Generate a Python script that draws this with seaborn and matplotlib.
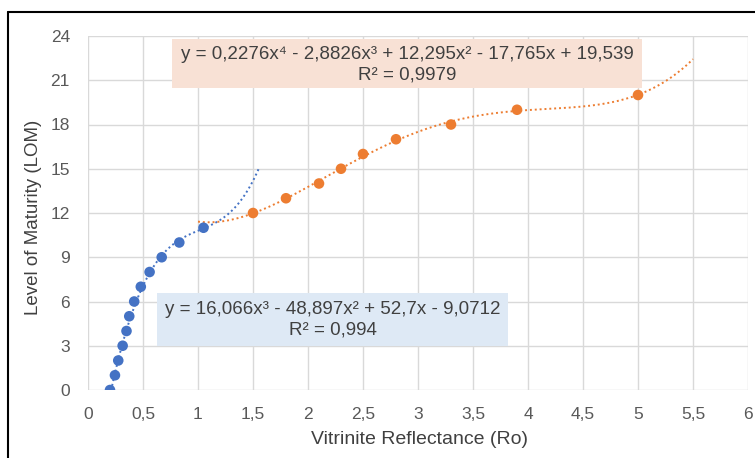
import numpy as np
import pandas as pd
import matplotlib
matplotlib.use("Agg")
import matplotlib.pyplot as plt
import seaborn as sns

# ---- data ----
ro_low = [0.20, 0.245, 0.275, 0.315, 0.35, 0.375, 0.42, 0.48, 0.56, 0.67, 0.83, 1.05]
lom_low = [0, 1, 2, 3, 4, 5, 6, 7, 8, 9, 10, 11]
ro_high = [1.5, 1.8, 2.1, 2.3, 2.5, 2.8, 3.3, 3.9, 5.0]
lom_high = [12, 13, 14, 15, 16, 17, 18, 19, 20]

# trendline coefficients as shown in the chart
coef_low = [16.066, -48.897, 52.7, -9.0712]
coef_high = [0.2276, -2.8826, 12.295, -17.765, 19.539]
range_low = (0.2, 1.55)
range_high = (1.0, 5.5)

eq_low = "y = 16,066x³ - 48,897x² + 52,7x - 9,0712\nR² = 0,994"
eq_high = "y = 0,2276x⁴ - 2,8826x³ + 12,295x² - 17,765x + 19,539\nR² = 0,9979"

x_ticks = [0, 0.5, 1, 1.5, 2, 2.5, 3, 3.5, 4, 4.5, 5, 5.5, 6]
x_labels = ["0", "0,5", "1", "1,5", "2", "2,5", "3", "3,5", "4", "4,5", "5", "5,5", "6"]
y_ticks = [0, 3, 6, 9, 12, 15, 18, 21, 24]

blue = "#4472C4"
orange = "#ED7D31"

sns.set_theme(style="white")
plt.rcParams['font.family'] = ['Liberation Sans', 'DejaVu Sans']

fig = plt.figure(figsize=(7.55, 4.58), dpi=100)
ax = fig.add_axes([88/755, 68/458, 660/755, 354/458])

# trendlines
xl = np.linspace(*range_low, 200)
xh = np.linspace(*range_high, 300)
trend = pd.DataFrame({
    "x": np.concatenate([xl, xh]),
    "y": np.concatenate([np.polyval(coef_low, xl), np.polyval(coef_high, xh)]),
    "s": ["low"] * len(xl) + ["high"] * len(xh),
})
for s, c in (("low", blue), ("high", orange)):
    d = trend[trend.s == s]
    sns.lineplot(data=d, x="x", y="y", ax=ax, color=c, lw=1.4, linestyle=(0, (1, 1.5)),
                 estimator=None, sort=False, legend=False, zorder=3)

pts = pd.DataFrame({
    "Ro": ro_low + ro_high,
    "LOM": lom_low + lom_high,
    "g": ["low"] * len(ro_low) + ["high"] * len(ro_high),
})
sns.scatterplot(data=pts, x="Ro", y="LOM", hue="g", palette={"low": blue, "high": orange},
                s=58, edgecolor="none", legend=False, ax=ax, zorder=4)

ax.set_xlim(0, 6)
ax.set_ylim(0, 24)
ax.set_xticks(x_ticks)
ax.set_xticklabels(x_labels)
ax.set_yticks(y_ticks)
ax.grid(True, color="#D9D9D9", lw=1)
ax.set_axisbelow(True)
for sp in ax.spines.values():
    sp.set_visible(False)
ax.tick_params(axis="both", length=0, labelsize=12.5, colors="#595959")
ax.tick_params(axis="x", pad=12)
ax.tick_params(axis="y", pad=13)
ax.set_xlabel("Vitrinite Reflectance (Ro)", fontsize=14, color="#404040")
ax.set_ylabel("Level of Maturity (LOM)", fontsize=13.5, color="#404040")
ax.xaxis.set_label_coords(420/755, 1 - 431/458, transform=fig.transFigure)
ax.yaxis.set_label_coords(42/755, 1 - 217/458, transform=fig.transFigure)

# equation boxes (figure pixel placement)
fig.patches.append(plt.Rectangle((172/755, 1 - 88/458), (642-172)/755, (88-39)/458,
                                 transform=fig.transFigure, facecolor="#F8E1D5",
                                 edgecolor="none", zorder=5))
fig.text(407/755, 1 - 65/458, eq_high, ha="center", va="center", fontsize=13.5,
         color="#404040", linespacing=1.25, zorder=6)
fig.patches.append(plt.Rectangle((157/755, 1 - 346/458), (508-157)/755, (346-293)/458,
                                 transform=fig.transFigure, facecolor="#DEE9F5",
                                 edgecolor="none", zorder=5))
fig.text(333/755, 1 - 320/458, eq_low, ha="center", va="center", fontsize=13.5,
         color="#404040", linespacing=1.25, zorder=6)

# outer border (top & left)
fig.add_artist(plt.Line2D([8/755, 1], [1 - 12/458, 1 - 12/458], transform=fig.transFigure,
                          color="black", lw=1.5))
fig.add_artist(plt.Line2D([8/755, 8/755], [0, 1 - 12/458], transform=fig.transFigure,
                          color="black", lw=1.5))

fig.savefig("out.png", dpi=100)
